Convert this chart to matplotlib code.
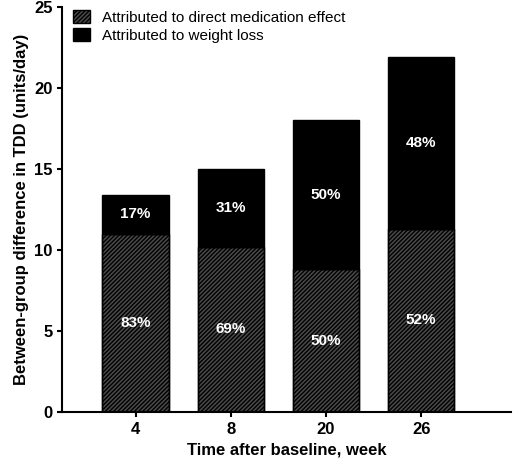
import matplotlib
matplotlib.use("Agg")
import matplotlib.pyplot as plt

weeks = ["4", "8", "20", "26"]
direct = [11.0, 10.2, 8.8, 11.3]
total = [13.4, 15.0, 18.0, 21.9]
pct_direct = ["83%", "69%", "50%", "52%"]
pct_weight = ["17%", "31%", "50%", "48%"]
weight = [t - d for t, d in zip(total, direct)]

plt.rcParams['font.family'] = ['Liberation Sans', 'DejaVu Sans']
plt.rcParams['hatch.color'] = 'white'
plt.rcParams['hatch.linewidth'] = 1.0
fig = plt.figure(figsize=(5.2, 4.68), dpi=100)
ax = fig.add_axes([0.12, 0.12, 0.862, 0.865])
x = list(range(len(weeks)))
ax.bar(x, direct, 0.7, color='#4a4a4a', hatch='////////', edgecolor='black', linewidth=1,
       label='Attributed to direct medication effect')
ax.bar(x, direct, 0.7, color='none', edgecolor='black', linewidth=1)
ax.bar(x, weight, 0.7, bottom=direct, color='black', edgecolor='black', linewidth=1,
       label='Attributed to weight loss')
for i in x:
    ax.text(i, direct[i] / 2, pct_direct[i], ha='center', va='center', color='white',
            fontsize=11, fontweight='bold')
    ax.text(i, direct[i] + weight[i] / 2, pct_weight[i], ha='center', va='center',
            color='white', fontsize=11, fontweight='bold')
ax.set_xlim(-0.77, 3.94)
ax.set_ylim(0, 25)
ax.set_yticks(range(0, 26, 5))
ax.set_xticks(x)
ax.set_xticklabels(weeks)
for s in ['top', 'right']:
    ax.spines[s].set_visible(False)
for s in ['left', 'bottom']:
    ax.spines[s].set_linewidth(1.5)
ax.tick_params(width=1.5, labelsize=12)
for l in ax.get_xticklabels() + ax.get_yticklabels():
    l.set_fontweight('bold')
ax.set_xlabel('Time after baseline, week', fontsize=12, fontweight='bold')
ax.set_ylabel('Between-group difference in TDD (units/day)', fontsize=12, fontweight='bold')
ax.legend(loc='upper left', bbox_to_anchor=(0.0, 1.02), frameon=False, fontsize=11,
          handlelength=1.1, handleheight=1.0, borderaxespad=0.3, labelspacing=0.2)
fig.savefig('out.png', dpi=100)
